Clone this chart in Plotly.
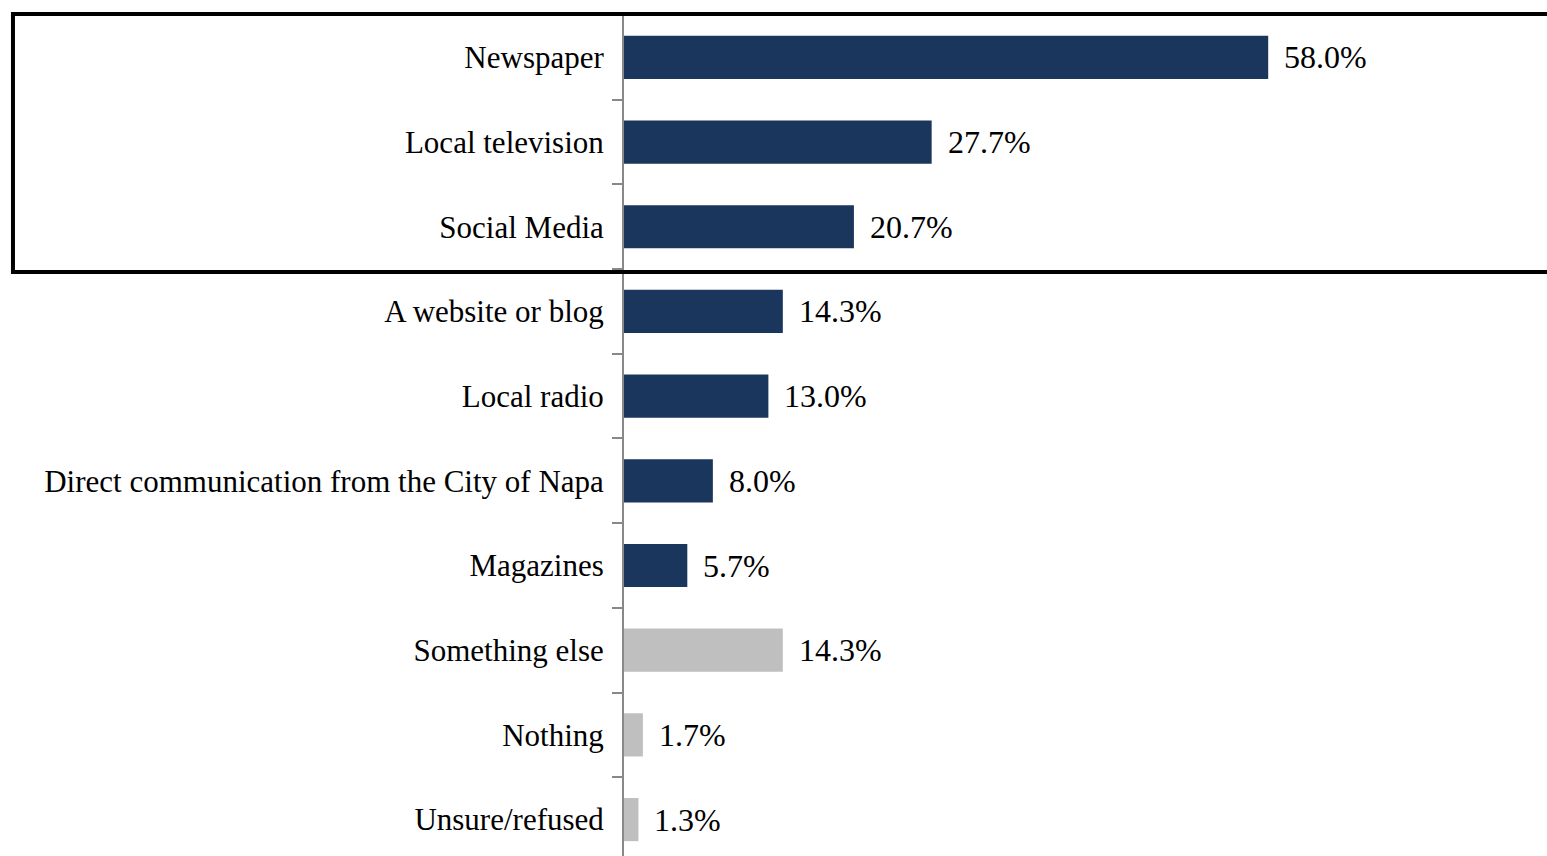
import plotly.graph_objects as go

categories = ["Newspaper", "Local television", "Social Media", "A website or blog",
              "Local radio", "Direct communication from the City of Napa", "Magazines",
              "Something else", "Nothing", "Unsure/refused"]
values = [58.0, 27.7, 20.7, 14.3, 13.0, 8.0, 5.7, 14.3, 1.7, 1.3]
bar_colors = ["#1B365D"] * 7 + ["#BFBFBF"] * 3
value_labels = [f"{v:.1f}%" for v in values]

FONT = "Liberation Serif"
pos = list(range(len(categories)))

fig = go.Figure()
fig.add_trace(go.Bar(
    y=pos, x=values, orientation="h",
    marker=dict(color=bar_colors, line=dict(width=0)),
    width=0.51, hoverinfo="skip",
))

for p, v, t in zip(pos, values, value_labels):
    fig.add_annotation(x=v, y=p, text=t, xanchor="left", yanchor="middle",
                       xshift=14, showarrow=False,
                       font=dict(family=FONT, size=32, color="#000000"))

# highlight box around the top three categories
fig.add_shape(type="rect", xref="paper", yref="paper",
              x0=-0.662, x1=1.02, y0=0.6944, y1=1.0012,
              line=dict(color="#000000", width=4), layer="above")

fig.update_layout(
    width=1547, height=856,
    margin=dict(l=624, r=0, t=15, b=0),
    plot_bgcolor="#FFFFFF", paper_bgcolor="#FFFFFF",
    showlegend=False,
    font=dict(family=FONT, color="#000000"),
    xaxis=dict(range=[0, 83.1], visible=False, showgrid=False, zeroline=False),
    yaxis=dict(
        range=[9.43, -0.5], autorange=False,
        tickmode="array", tickvals=pos, ticktext=categories,
        ticks="", ticklabelstandoff=12,
        tickfont=dict(family=FONT, size=31, color="#000000"),
        showline=True, linecolor="#888888", linewidth=2,
        showgrid=False, zeroline=False,
        minor=dict(tickmode="array", tickvals=[p - 0.5 for p in pos] + [9.5],
                   ticks="outside", ticklen=10, tickcolor="#888888", tickwidth=2,
                   showgrid=False),
    ),
    bargap=0.49,
)

fig.write_html("out.html", config={"displayModeBar": False},
               post_script="document.body.style.margin='0';document.body.style.overflow='hidden';")
